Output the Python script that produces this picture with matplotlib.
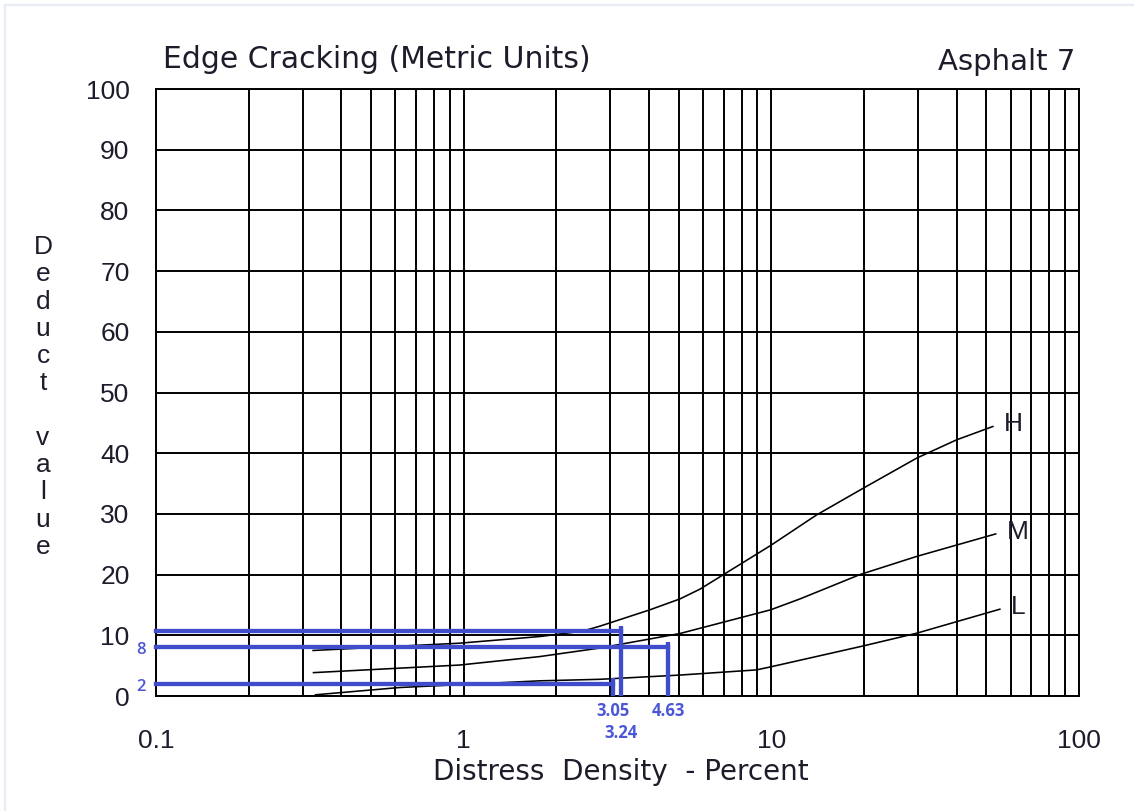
import matplotlib
matplotlib.use("Agg")
import matplotlib.pyplot as plt
from matplotlib.lines import Line2D
from matplotlib.ticker import FixedLocator, LogLocator, NullFormatter

# Deduct-value curves for edge cracking: distress density (%) vs deduct value
h_density = [0.324, 0.97, 1.77, 2.44, 2.77, 4.03, 5.05, 5.86, 6.89, 9.95, 14.0, 20.0, 29.7, 40.0, 52.5]
h_deduct = [7.5, 8.7, 9.8, 10.7, 11.5, 14.2, 16.0, 17.6, 19.8, 24.8, 29.8, 34.3, 39.2, 42.2, 44.4]

m_density = [0.325, 0.97, 1.31, 1.77, 2.77, 5.05, 9.95, 12.4, 19.4, 29.7, 53.6]
m_deduct = [3.85, 5.1, 5.8, 6.5, 7.9, 10.3, 14.2, 16.0, 20.0, 23.0, 26.7]

l_density = [0.33, 0.53, 0.62, 1.0, 1.77, 2.77, 5.05, 8.95, 9.95, 19.9, 29.7, 55.3]
l_deduct = [0.2, 1.1, 1.4, 1.9, 2.5, 2.75, 3.45, 4.3, 4.8, 8.25, 10.35, 14.3]

curve_names = ["H", "M", "L"]

# Read-off guides: density value and deduct value of each lookup
guide_density = [3.05, 3.24, 4.63]
guide_deduct = [2, 10.7, 8]
guide_deduct_labels = ["2", "", "8"]

x_ticks = [0.1, 1, 10, 100]
x_tick_labels = ["0.1", "1", "10", "100"]
y_ticks = list(range(0, 101, 10))

TEXT = "#1c1c2a"
BLUE = "#3f4ccb"
BLUE_TEXT = "#4b57d6"
FONT = "Liberation Sans"
WIDE_FONT = "DejaVu Sans"

W, H = 1134, 811
fig = plt.figure(figsize=(W / 100, H / 100), dpi=100)
fig.patch.set_facecolor("white")

# light frame along the top and left edge
fig.add_artist(Line2D([5 / W, 5 / W], [0, 1 - 5 / H], color="#e8ecf5", lw=1.6))
fig.add_artist(Line2D([5 / W, 1], [1 - 5 / H, 1 - 5 / H], color="#e8ecf5", lw=1.6))

left, right, top, bottom = 156, 1079, 89, 696
ax = fig.add_axes([left / W, 1 - bottom / H, (right - left) / W, (bottom - top) / H])
ax.set_xscale("log")
ax.set_xlim(0.1, 100)
ax.set_ylim(0, 100)

ax.xaxis.set_major_locator(FixedLocator(x_ticks))
ax.xaxis.set_minor_locator(LogLocator(base=10, subs=range(2, 10)))
ax.xaxis.set_minor_formatter(NullFormatter())
ax.set_xticklabels(x_tick_labels)
ax.set_yticks(y_ticks)
ax.set_yticklabels([str(v) for v in y_ticks])

ax.grid(True, which="both", axis="x", color="black", lw=1.4)
ax.grid(True, which="major", axis="y", color="black", lw=1.4)
ax.set_axisbelow(True)
for sp in ax.spines.values():
    sp.set_linewidth(1.4)
    sp.set_color("black")

ax.tick_params(which="both", length=0)
ax.tick_params(axis="y", pad=19, labelsize=19, labelcolor=TEXT)
ax.tick_params(axis="x", pad=24, labelsize=19, labelcolor=TEXT)
for lab in ax.get_xticklabels() + ax.get_yticklabels():
    lab.set_fontfamily(FONT)

# curves with their severity letters
for name, xs, ys in zip(curve_names,
                        [h_density, m_density, l_density],
                        [h_deduct, m_deduct, l_deduct]):
    ax.plot(xs, ys, color="black", lw=1.15, zorder=3)
    ax.annotate(name, xy=(xs[-1], ys[-1]), xytext=(11, 2), textcoords="offset pixels",
                ha="left", va="center", fontsize=19, family=FONT, color=TEXT)

# blue guide lines: horizontal from the deduct value, vertical down from the density
label_rows = [0, 1, 0]
for xv, yv, ylab, row in zip(guide_density, guide_deduct, guide_deduct_labels, label_rows):
    ax.plot([0.1, xv], [yv, yv], color=BLUE, lw=3.1, solid_capstyle="projecting",
            clip_on=False, zorder=5)
    ax.plot([xv, xv], [0, yv + 0.9], color=BLUE, lw=3.1, solid_capstyle="butt",
            clip_on=False, zorder=5)
    ax.annotate(f"{xv:.2f}", xy=(xv, 0), xytext=(0, -15 - 22 * row),
                textcoords="offset pixels", ha="center", va="center",
                fontsize=12, fontweight="bold", family="Open Sans", color=BLUE_TEXT,
                annotation_clip=False)
    if ylab:
        ax.annotate(ylab, xy=(0.1, yv), xytext=(-15, -3), textcoords="offset pixels",
                    ha="center", va="center", fontsize=12, fontweight="semibold",
                    family="Open Sans", color=BLUE_TEXT, annotation_clip=False)

# titles and axis captions
fig.text(163 / W, 1 - 60 / H, "Edge Cracking (Metric Units)", ha="left", va="center",
         fontsize=21.5, family=WIDE_FONT, color=TEXT)
fig.text(1075 / W, 1 - 62 / H, "Asphalt 7", ha="right", va="center",
         fontsize=21, family=WIDE_FONT, color=TEXT)
fig.text(621 / W, 1 - 772 / H, "Distress  Density  - Percent", ha="center", va="center",
         fontsize=20, family=WIDE_FONT, color=TEXT)
fig.text(43 / W, 1 - 397 / H, "\n".join("Deduct value"), ha="center", va="center",
         fontsize=19, family=FONT, color=TEXT, linespacing=1.17)

fig.savefig("out.png", dpi=100, facecolor="white")
